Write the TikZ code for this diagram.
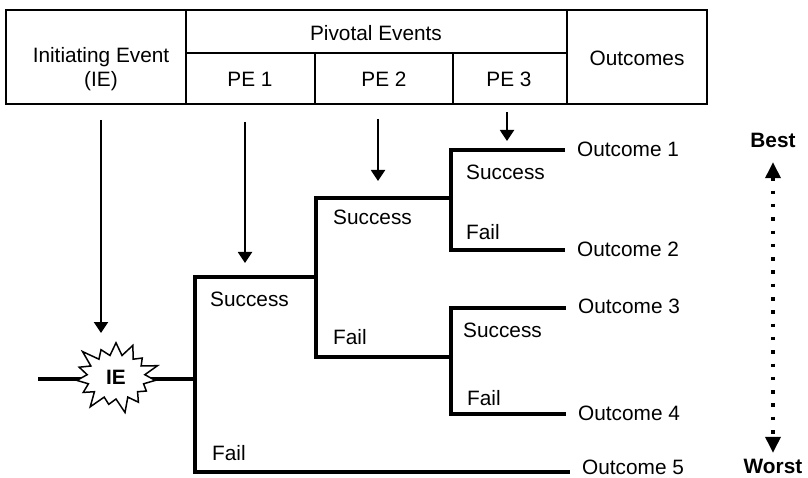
\documentclass[tikz,border=0pt]{standalone}
\usepackage{fontspec}
\setmainfont{Liberation Sans}
\usetikzlibrary{arrows.meta,shapes.symbols}
\begin{document}
\begin{tikzpicture}[x=1pt,y=-1pt,
  font=\fontsize{20.8}{25}\selectfont,
  txt/.style={inner sep=0pt, text height=15pt, text depth=0pt},
  lbl/.style={txt, anchor=west},
  outc/.style={txt, anchor=west, inner xsep=12pt},
  grid/.style={line width=1.8pt, line join=miter},
  branch/.style={line width=3.2pt, line join=miter},
  feed/.style={line width=1.9pt, -{Triangle[width=14pt,length=11pt]}},
  scale arrow/.style={line width=3.5pt, dash pattern=on 3.5pt off 9.8pt,
    {Triangle[width=15pt,length=16pt]}-{Triangle[width=15pt,length=16pt]}},
]
\useasboundingbox (0,0) rectangle (808,478);

% header table
\draw[grid] (6,10) rectangle (707,104);
\draw[grid] (186,10) -- (186,104)
            (567,10) -- (567,104)
            (186,53) -- (567,53)
            (315,53) -- (315,104)
            (453,53) -- (453,104);
\node[txt] (hie1) at (101,55) {Initiating Event};
\node[txt] (hie2) at (101,79) {(IE)};
\node[txt] (hpiv) at (376,33) {Pivotal Events};
\node[txt] (hpe1) at (250,79) {PE 1};
\node[txt] (hpe2) at (384,79) {PE 2};
\node[txt] (hpe3) at (509,79) {PE 3};
\node[txt] (hout) at (637,58) {Outcomes};

% feed arrows from the header columns
\coordinate (fie)  at (101,120);  \coordinate (tie)  at (101,333);
\coordinate (fpe1) at (245,122);  \coordinate (tpe1) at (245,263);
\coordinate (fpe2) at (378,119);  \coordinate (tpe2) at (378,181);
\coordinate (fpe3) at (507,112);  \coordinate (tpe3) at (507,141);
\draw[feed] (fie) -- (tie);
\draw[feed] (fpe1) -- (tpe1);
\draw[feed] (fpe2) -- (tpe2);
\draw[feed] (fpe3) -- (tpe3);

% split points of the tree
\coordinate (lead) at (38,379);
\coordinate (iec)  at (116,377);
\coordinate (s1)   at (195,379);
\coordinate (s1t)  at (195,277);
\coordinate (s1b)  at (195,472);
\coordinate (s2)   at (316,277);
\coordinate (s2t)  at (316,198);
\coordinate (s2b)  at (316,357);
\coordinate (s3at) at (451,150);
\coordinate (s3ab) at (451,250);
\coordinate (s3bt) at (451,308);
\coordinate (s3bb) at (451,414);

% outcomes
\node[outc] (o1) at (565,149) {Outcome 1};
\node[outc] (o2) at (565,249) {Outcome 2};
\node[outc] (o3) at (566,306) {Outcome 3};
\node[outc] (o4) at (566,413) {Outcome 4};
\node[outc] (o5) at (570,467) {Outcome 5};

% branches
\draw[branch] (lead) -- (s1);
\draw[branch] (s2) -- (s1t) -- (s1b) -- (s1b -| o5.west);
\draw[branch] (s2t -| s3at) -- (s2t) -- (s2b) -- (s2b -| s3bb);
\draw[branch] (s3at -| o1.west) -- (s3at) -- (s3ab) -- (s3ab -| o2.west);
\draw[branch] (s3bt -| o3.west) -- (s3bt) -- (s3bb) -- (s3bb -| o4.west);

% initiating event
\node[starburst, draw, fill=white, line width=1.5pt,
      minimum width=92pt, minimum height=78pt,
      starburst points=15, starburst point height=17pt,
      inner sep=0pt, font=\fontsize{20.8}{25}\selectfont\bfseries] (ie) at (iec) {IE};

% branch labels
\node[lbl] (l1s) at (210,299) {Success};
\node[lbl] (l1f) at (212,453) {Fail};
\node[lbl] (l2s) at (333,217) {Success};
\node[lbl] (l2f) at (333,337) {Fail};
\node[lbl] (l3s) at (466,172) {Success};
\node[lbl] (l3f) at (466,232) {Fail};
\node[lbl] (l4s) at (463,330) {Success};
\node[lbl] (l4f) at (467,398) {Fail};

% ranking scale
\node[txt, font=\fontsize{20.8}{25}\selectfont\bfseries] (best) at (773,140) {Best};
\node[txt, font=\fontsize{20.8}{25}\selectfont\bfseries] (worst) at (773,466) {Worst};
\draw[scale arrow, shorten <=14.5pt, shorten >=5.5pt] (best.south) -- (worst.north);
\end{tikzpicture}
\end{document}
